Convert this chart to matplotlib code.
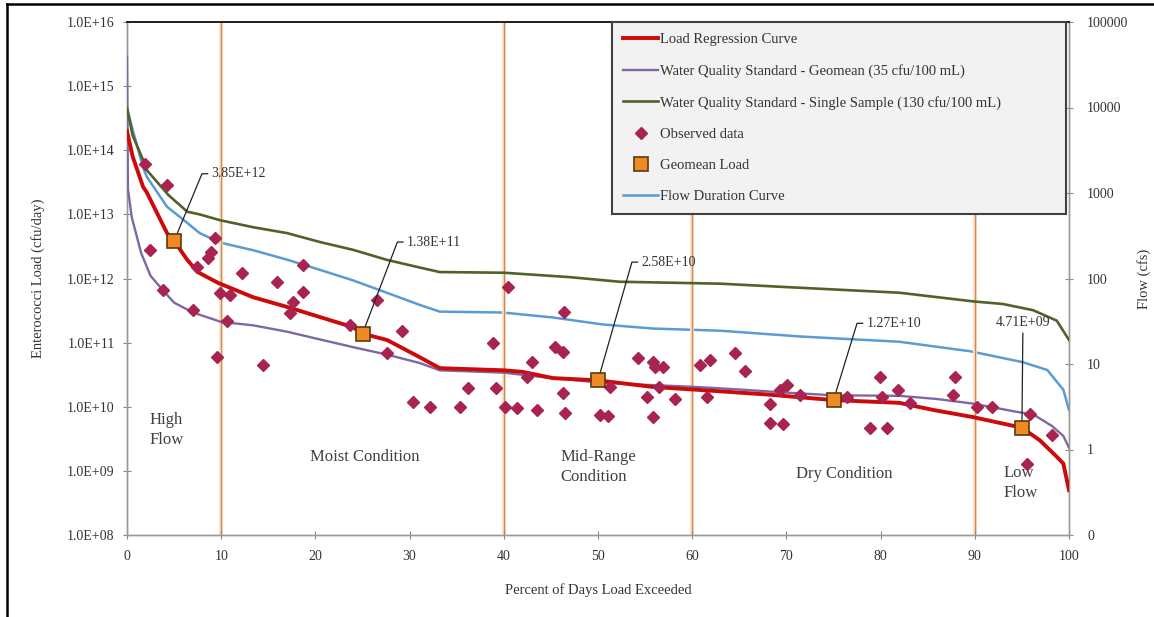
import matplotlib
matplotlib.use("Agg")
import matplotlib.pyplot as plt
from matplotlib.ticker import FuncFormatter, FixedLocator, NullLocator
from matplotlib.lines import Line2D
import numpy as np

# ---------------- data ----------------
red_x = [0, 0.6, 1.7, 2.1, 4.25, 5, 6.4, 7.5, 9.7, 13.4, 17, 20.5, 24, 25, 27.6, 31.1, 33.2,
         40, 42, 45.2, 50, 55.8, 61, 68, 75, 82, 85.6, 89.8, 95, 96.9, 98.7, 99.4, 100]
red_y = [2.0e14, 8.0e13, 2.7e13, 2.2e13, 5.1e12, 3.85e12, 1.95e12, 1.26e12, 8.5e11, 5.1e11,
         3.6e11, 2.5e11, 1.74e11, 1.38e11, 1.1e11, 5.9e10, 4.0e10, 3.7e10, 3.5e10, 2.8e10,
         2.58e10, 2.04e10, 1.82e10, 1.55e10, 1.27e10, 1.15e10, 8.9e9, 6.9e9, 4.71e9, 3.0e9,
         1.66e9, 1.3e9, 5.0e8]

purple_x = [0, 0.1, 0.5, 1.5, 2.5, 3.8, 5, 7, 10, 13.4, 17, 20.5, 24, 27.6, 31.1, 33.2, 40, 45,
            50, 55, 60, 65, 70, 75, 82, 86, 89.8, 94.5, 96.2, 98.2, 99.4, 100]
purple_y = [2.9e15, 2.5e13, 9.1e12, 2.5e12, 1.1e12, 6.6e11, 4.2e11, 2.95e11, 2.1e11, 1.86e11,
            1.48e11, 1.12e11, 8.5e10, 6.5e10, 4.8e10, 3.7e10, 3.4e10, 2.8e10, 2.4e10, 2.2e10,
            2.05e10, 1.86e10, 1.66e10, 1.51e10, 1.48e10, 1.32e10, 1.12e10, 8.3e9, 7.6e9, 5.0e9,
            3.5e9, 2.3e9]

green_x = [0, 0.6, 1.7, 2.1, 4.4, 6.4, 7.7, 9.9, 13.4, 17, 20.5, 24, 27.6, 31.1, 33.2, 40, 47,
           52.3, 59.4, 63, 72, 82, 89.8, 93, 96.2, 98.7, 100]
green_y = [4.5e14, 1.7e14, 7.1e13, 4.9e13, 2.0e13, 1.1e13, 1.0e13, 8.1e12, 6.3e12, 5.1e12,
           3.7e12, 2.8e12, 1.95e12, 1.48e12, 1.26e12, 1.23e12, 1.05e12, 8.9e11, 8.5e11, 8.3e11,
           7.1e11, 6.0e11, 4.4e11, 4.0e11, 3.2e11, 2.2e11, 1.1e11]

flow_x = [0, 0.6, 1.7, 2.1, 4.25, 6.4, 7.7, 9.9, 13.4, 17, 20.5, 24, 27.6, 31.1, 33.2, 39.9,
          45.2, 50.5, 55.8, 63, 71.4, 82, 89.5, 95.1, 97.7, 99.4, 100]
flow_y = [10000, 5500, 2000, 1550, 690, 447, 340, 263, 214, 166, 126, 95, 68, 49, 41, 40,
          35, 29, 26, 24.5, 21, 18.2, 14.1, 10.5, 8.5, 5.0, 2.9]

obs_x = [1.9, 4.2, 2.4, 3.8, 7.4, 7.0, 9.3, 8.9, 8.6, 9.9, 10.9, 10.6, 12.2, 15.9, 18.7, 18.7,
         17.6, 17.3, 23.7, 26.5, 29.2, 9.6, 14.4, 27.6, 30.4, 32.2, 40.4, 46.4, 38.9, 45.4,
         46.3, 43.0, 42.5, 36.2, 39.2, 35.4, 40.1, 41.4, 43.5, 46.3, 46.5, 50.2, 51.1, 51.3,
         54.2, 55.8, 56.1, 56.9, 55.2, 55.8, 58.2, 60.8, 61.9, 61.6, 56.5, 64.5, 65.6, 70.1,
         68.3, 68.3, 69.6, 69.3, 71.4, 76.4, 79.9, 80.1, 81.8, 83.1, 78.9, 80.7, 87.9, 87.7,
         90.2, 91.8, 95.9, 98.2, 95.5]
obs_y = [6.2e13, 2.9e13, 2.8e12, 6.6e11, 1.5e12, 3.2e11, 4.3e12, 2.6e12, 2.1e12, 6.0e11,
         5.5e11, 2.2e11, 1.2e12, 8.9e11, 1.6e12, 6.2e11, 4.3e11, 2.9e11, 1.9e11, 4.7e11,
         1.5e11, 6.0e10, 4.5e10, 6.9e10, 1.2e10, 1.0e10, 7.4e11, 3.0e11, 1.0e11, 8.5e10,
         7.1e10, 5.0e10, 2.9e10, 1.95e10, 1.95e10, 1.0e10, 1.0e10, 9.5e9, 8.9e9, 1.66e10,
         7.9e9, 7.4e9, 7.2e9, 2.0e10, 5.8e10, 5.0e10, 4.2e10, 4.2e10, 1.4e10, 6.8e9,
         1.3e10, 4.5e10, 5.4e10, 1.4e10, 2.0e10, 6.9e10, 3.6e10, 2.2e10, 1.1e10, 5.6e9,
         5.4e9, 1.8e10, 1.5e10, 1.4e10, 2.9e10, 1.4e10, 1.8e10, 1.15e10, 4.7e9, 4.7e9,
         2.9e10, 1.5e10, 1.0e10, 1.0e10, 7.8e9, 3.6e9, 1.3e9]

geo_x = [5, 25, 50, 75, 95]
geo_y = [3.85e12, 1.38e11, 2.58e10, 1.27e10, 4.71e9]
geo_labels = ["3.85E+12", "1.38E+11", "2.58E+10", "1.27E+10", "4.71E+09"]
# leader-line elbow positions for the labels
label_elbow = [(7.96, 4.3e13), (28.7, 3.7e12), (53.6, 1.8e12), (77.5, 2.0e11), (95.1, 1.4e11)]

zone_bounds = [10, 40, 60, 90]
zone_labels = ["High\nFlow", "Moist Condition", "Mid-Range\nCondition", "Dry Condition", "Low\nFlow"]
zone_pos = [(2.4, 4.4e9), (19.4, 1.65e9), (46.0, 1.15e9), (71.0, 8.9e8), (93.0, 6.4e8)]

left_ticks = [1e8, 1e9, 1e10, 1e11, 1e12, 1e13, 1e14, 1e15, 1e16]
right_ticks = [0.1, 1, 10, 100, 1000, 10000, 100000]
x_ticks = list(range(0, 101, 10))

# ---------------- style ----------------
serif = ["Liberation Serif", "DejaVu Serif"]
plt.rcParams['font.family'] = serif
TXT = '#333333'

fig = plt.figure(figsize=(11.54, 6.17), dpi=100)
L, R, B, T = 127/1154, 1069/1154, 1-535/617, 1-22/617
ax1 = fig.add_axes([L, B, R-L, T-B])
ax2 = ax1.twinx()
ax1.set_zorder(ax2.get_zorder() + 1)
ax1.patch.set_visible(False)

for xb in zone_bounds:
    ax1.axvline(xb, color='#FBE3CF', lw=3.0, zorder=1)
    ax1.axvline(xb, color='#D08A50', lw=1.0, zorder=1.1)

l_red, = ax1.plot(red_x, red_y, color='#CC0A0A', lw=2.8, zorder=4, label='Load Regression Curve')
l_pur, = ax1.plot(purple_x, purple_y, color='#7E67A6', lw=1.7, zorder=3,
                  label='Water Quality Standard - Geomean (35 cfu/100 mL)')
l_grn, = ax1.plot(green_x, green_y, color='#4F6228', lw=1.9, zorder=3,
                  label='Water Quality Standard - Single Sample (130 cfu/100 mL)')
l_obs, = ax1.plot(obs_x, obs_y, linestyle='none', marker='D', ms=6.0, color='#A8234F',
                  mec='#A8234F', zorder=5, label='Observed data')
l_geo, = ax1.plot(geo_x, geo_y, linestyle='none', marker='s', ms=9.5, mfc='#F08A24',
                  mec='#5A3A10', mew=1.2, zorder=6, label='Geomean Load')
l_flow, = ax2.plot(flow_x, flow_y, color='#5A9BD5', lw=1.8, zorder=3, label='Flow Duration Curve')

# geomean labels with leader lines
for (gx, gy), (ex, ey), lab in zip(zip(geo_x, geo_y), label_elbow, geo_labels):
    if lab == "4.71E+09":
        ax1.plot([gx, ex], [gy, ey], color='#222222', lw=0.9, zorder=5.5)
        ax1.text(ex, ey * 1.45, lab, ha='center', va='center', fontsize=10, color=TXT, zorder=7)
    else:
        ax1.plot([gx, ex, ex + 0.6], [gy, ey, ey], color='#222222', lw=0.9, zorder=5.5)
        ax1.text(ex + 1.0, ey, lab, ha='left', va='center', fontsize=10, color=TXT, zorder=7)

for lab, (zx, zy) in zip(zone_labels, zone_pos):
    ax1.text(zx, zy, lab, ha='left', va='center', fontsize=12, color='#404040',
             linespacing=1.35, zorder=2)

# axes
ax1.set_xlim(0, 100)
ax1.set_yscale('log')
ax1.set_ylim(1e8, 1e16)
ax2.set_yscale('log')
ax2.set_ylim(0.1, 100000)

ax1.yaxis.set_major_locator(FixedLocator(left_ticks))
ax1.yaxis.set_minor_locator(NullLocator())
ax1.yaxis.set_major_formatter(FuncFormatter(lambda v, p: f"{v:.1E}"))
ax2.yaxis.set_major_locator(FixedLocator(right_ticks))
ax2.yaxis.set_minor_locator(NullLocator())
ax2.yaxis.set_major_formatter(FuncFormatter(lambda v, p: "0" if v < 1 else f"{v:.0f}"))
ax1.set_xticks(x_ticks)

for a in (ax1, ax2):
    a.tick_params(direction='inout', length=6, width=0.8, colors='#888888',
                  labelcolor=TXT, labelsize=10)
    for s in a.spines.values():
        s.set_color('#999999')
        s.set_linewidth(1.0)
    a.spines['top'].set_color('#222222')
    a.spines['top'].set_linewidth(1.4)
ax1.tick_params(axis='y', pad=6)
ax1.tick_params(axis='x', pad=8)
ax2.tick_params(axis='y', pad=10)

ax1.set_xlabel('Percent of Days Load Exceeded', fontsize=10.5, color=TXT, labelpad=14)
ax1.set_ylabel('Enterococci Load (cfu/day)', fontsize=10.5, color=TXT, labelpad=16)
ax2.set_ylabel('Flow (cfs)', fontsize=10.5, color=TXT, labelpad=6)

handles = [l_red, l_pur, l_grn, l_obs, l_geo, l_flow]
leg = ax1.legend(handles=handles, loc='upper left', bbox_to_anchor=(0.515, 1.0, 0.482, 0.0),
                 mode='expand', fontsize=10.5, frameon=True, fancybox=False,
                 handlelength=2.4, handletextpad=0.1, labelspacing=1.22, borderpad=0.75,
                 borderaxespad=0.0, framealpha=1.0)
leg.get_frame().set_facecolor('#F2F2F2')
leg.get_frame().set_edgecolor('#404040')
leg.get_frame().set_linewidth(1.5)
leg.set_zorder(20)
for t in leg.get_texts():
    t.set_color(TXT)

# outer figure border (left and top)
fig.add_artist(Line2D([7/1154, 7/1154], [0, 1-4/617], transform=fig.transFigure,
                      color='black', lw=1.8))
fig.add_artist(Line2D([7/1154, 1], [1-4/617, 1-4/617], transform=fig.transFigure,
                      color='black', lw=1.8))

fig.savefig('out.png', dpi=100)
